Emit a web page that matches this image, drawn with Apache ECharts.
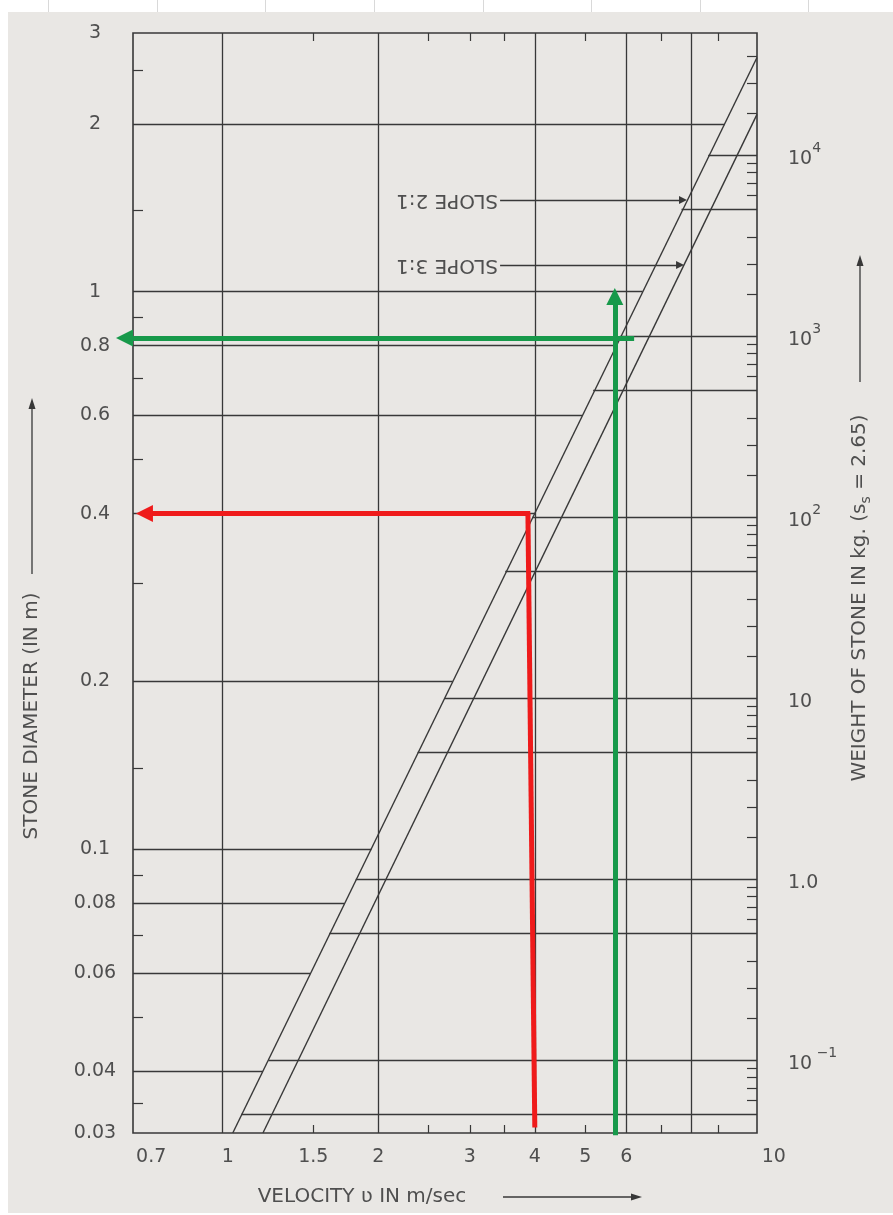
<!DOCTYPE html>
<html>
<head>
<meta charset="utf-8">
<script src="https://cdn.jsdelivr.net/npm/echarts@6/dist/echarts.min.js"></script>
<style>
  html, body { margin: 0; padding: 0; background: #ffffff; }
  .rule { position: absolute; top: 0; width: 1px; height: 12px; background: #d9d9d9; }
  #sheet { position: absolute; left: 8px; top: 12px; width: 885px; height: 1201px; background: #e9e7e4; }
  #chart { position: absolute; left: 0; top: 0; width: 893px; height: 1215px; }
</style>
</head>
<body>
<div class="rule" style="left:48px"></div>
<div class="rule" style="left:157px"></div>
<div class="rule" style="left:265px"></div>
<div class="rule" style="left:374px"></div>
<div class="rule" style="left:483px"></div>
<div class="rule" style="left:591px"></div>
<div class="rule" style="left:700px"></div>
<div class="rule" style="left:808px"></div>
<div id="sheet"></div>
<div id="chart"></div>
<script>
// ---- scale extents (all three scales are logarithmic) ----
const V_MIN = 0.675, V_MAX = 10.7;     // flow velocity, m/s
const D_MIN = 0.031, D_MAX = 2.91;     // stone diameter, m
const W_MIN = 0.0395, W_MAX = 47200;   // stone weight, kg

// ---- velocity axis ----
const velocityLabels = [0.7, 1, 1.5, 2, 3, 4, 5, 6, 10];
const velocityMinorTicks = [1.5, 2.5, 3, 3.5, 5, 7, 9];
const velocityGrid = [1, 2, 4, 6, 8];

// ---- diameter axis ----
const diameterLabels = [0.03, 0.04, 0.06, 0.08, 0.1, 0.2, 0.4, 0.6, 0.8, 1, 2, 3];
const diameterMinorTicks = [2.5, 1.4, 0.9, 0.7, 0.5, 0.3, 0.14, 0.09, 0.07, 0.05, 0.035];
const diameterGrid    = [2, 1, 0.8, 0.6, 0.4, 0.2, 0.1, 0.08, 0.06, 0.04];
// velocity at which each diameter line meets the 2:1 curve
const diameterGridEnd = [9.27, 6.45, 5.74, 4.94, 4.0, 2.78, 1.94, 1.72, 1.48, 1.20];

// ---- weight axis ----
const weightLabels = [0.1, 1, 10, 100, 1000, 10000];
const weightGrid      = [10000, 5000, 1000, 500, 100, 50, 10, 5, 1, 0.5, 0.1, 0.05];
// velocity at which each weight line leaves the 2:1 curve
const weightGridStart = [8.62, 7.66, 5.83, 5.18, 3.96, 3.51, 2.68, 2.38, 1.81, 1.61, 1.23, 1.09];
const weightMinorTicks = [
  0.09, 0.08, 0.07, 0.06,
  0.9, 0.8, 0.7, 0.6, 0.35, 0.25, 0.17,
  9, 8, 7, 6, 3.5, 2.5, 1.7,
  90, 80, 70, 60, 35, 25, 17,
  900, 800, 700, 600, 350, 250, 170,
  9000, 8000, 7000, 6000, 3500, 2500, 1700,
  35000, 25000, 17000
];

// ---- design curves: [velocity, diameter] ----
const slope21 = [[1.05, 0.031], [10.7, 2.63]];
const slope31 = [[1.2, 0.031], [10.7, 2.08]];
const pointer21 = [[3.43, 1.46], [7.71, 1.46]];
const pointer31 = [[3.43, 1.117], [7.61, 1.117]];

// ---- worked examples: [velocity, diameter] ----
const redUp     = [[4.0, 0.0317], [3.88, 0.4]];
const redAcross = [[3.92, 0.4], [0.71, 0.4]];
const greenUp     = [[5.7, 0.0307], [5.7, 0.98]];
const greenAcross = [[6.21, 0.826], [0.65, 0.826]];

const INK = '#383838';
const TEXT = '#4f4f4f';
const FONT = 'DejaVu Sans';
const RED = '#ef1b1b';
const GREEN = '#17994a';

const near = (a, b) => Math.abs(Math.log10(a) - Math.log10(b)) < 1e-4;
const inside = (v, lo, hi) => Math.min(Math.max(v, lo * 1.00001), hi * 0.99999);

const dLabelPos = diameterLabels.map(v => inside(v, D_MIN, D_MAX));
const vShift = { 0.7: 20, 1: 12, 10: 64 };  // left padding for labels set off their tick

const weightText = {
  0.1: '{b|10}{s| −1}', 1: '{b|1.0}', 10: '{b|10}',
  100: '{b|10}{s|2}', 1000: '{b|10}{s|3}', 10000: '{b|10}{s|4}'
};

const chart = echarts.init(document.getElementById('chart'), null, { renderer: 'canvas' });

const segStyle = { color: INK, width: 1.3, opacity: 1 };

function seg(a, b) { return { coords: [a, b] }; }

const LBL = { fontSize: 19, fontFamily: FONT, color: TEXT };

const option = {
  animation: false,
  backgroundColor: 'transparent',
  grid: { left: 133, right: 136, top: 33, bottom: 82, show: true, borderColor: INK, borderWidth: 1.6, backgroundColor: 'transparent' },
  xAxis: [
    {
      type: 'log', logBase: 10, min: V_MIN, max: V_MAX, position: 'bottom',
      axisLine: { show: false },
      splitLine: { show: false },
      axisTick: { show: true, inside: true, length: 8, customValues: velocityMinorTicks, lineStyle: { color: INK, width: 1.2 } },
      axisLabel: {
        customValues: velocityLabels, margin: 15,
        formatter: v => {
          const key = velocityLabels.find(x => near(x, v));
          return vShift[key] ? '{p' + vShift[key] + '|' + key + '}' : '{n|' + key + '}';
        },
        rich: {
          n: Object.assign({}, LBL),
          p12: Object.assign({ padding: [0, 0, 0, 12] }, LBL),
          p20: Object.assign({ padding: [0, 0, 0, 20] }, LBL),
          p64: Object.assign({ padding: [0, 0, 0, 64] }, LBL)
        }
      }
    },
    {
      type: 'log', logBase: 10, min: V_MIN, max: V_MAX, position: 'top',
      axisLine: { show: false },
      splitLine: { show: false },
      axisTick: { show: true, inside: true, length: 8, customValues: velocityMinorTicks, lineStyle: { color: INK, width: 1.2 } },
      axisLabel: { show: false }
    }
  ],
  yAxis: [
    {
      type: 'log', logBase: 10, min: D_MIN, max: D_MAX, position: 'left',
      axisLine: { show: false },
      splitLine: { show: false },
      axisTick: { show: true, inside: true, length: 10, customValues: diameterMinorTicks, lineStyle: { color: INK, width: 1.2 } },
      axisLabel: Object.assign({
        customValues: dLabelPos, margin: 38, align: 'center',
        formatter: v => {
          const i = dLabelPos.findIndex(x => near(x, v));
          return i >= 0 ? String(diameterLabels[i]) : '';
        }
      }, LBL)
    },
    {
      type: 'log', logBase: 10, min: W_MIN, max: W_MAX, position: 'right',
      axisLine: { show: false },
      splitLine: { show: false },
      axisTick: { show: true, inside: true, length: 10, customValues: weightMinorTicks, lineStyle: { color: INK, width: 1.2 } },
      axisLabel: {
        customValues: weightLabels, margin: 31, align: 'left',
        formatter: v => {
          const key = weightLabels.find(x => near(x, v));
          return weightText[key] || '';
        },
        rich: {
          b: { fontSize: 19, fontFamily: FONT, color: TEXT, lineHeight: 28, verticalAlign: 'bottom' },
          s: { fontSize: 14, fontFamily: FONT, color: TEXT, lineHeight: 28, verticalAlign: 'top' }
        }
      }
    }
  ],
  series: [
    { // vertical velocity grid lines
      type: 'lines', coordinateSystem: 'cartesian2d', xAxisIndex: 0, yAxisIndex: 0, silent: true,
      lineStyle: segStyle,
      data: velocityGrid.map(v => seg([v, D_MIN], [v, D_MAX]))
    },
    { // diameter lines, from the left frame to the 2:1 curve
      type: 'lines', coordinateSystem: 'cartesian2d', xAxisIndex: 0, yAxisIndex: 0, silent: true,
      lineStyle: segStyle,
      data: diameterGrid.map((d, i) => seg([V_MIN, d], [diameterGridEnd[i], d]))
    },
    { // weight lines, from the 2:1 curve to the right frame
      type: 'lines', coordinateSystem: 'cartesian2d', xAxisIndex: 0, yAxisIndex: 1, silent: true,
      lineStyle: segStyle,
      data: weightGrid.map((w, i) => seg([weightGridStart[i], w], [V_MAX, w]))
    },
    { // design curves
      type: 'lines', coordinateSystem: 'cartesian2d', xAxisIndex: 0, yAxisIndex: 0, silent: true,
      lineStyle: { color: INK, width: 1.4, opacity: 1 },
      data: [seg(slope21[0], slope21[1]), seg(slope31[0], slope31[1])]
    },
    { // slope pointers
      type: 'lines', coordinateSystem: 'cartesian2d', xAxisIndex: 0, yAxisIndex: 0, silent: true,
      lineStyle: { color: INK, width: 1.3, opacity: 1 },
      itemStyle: { color: INK, opacity: 1 },
      symbol: ['none', 'triangle'], symbolSize: [0, 8],
      data: [seg(pointer21[0], pointer21[1]), seg(pointer31[0], pointer31[1])]
    },
    { // example: v = 4 m/s
      type: 'lines', coordinateSystem: 'cartesian2d', xAxisIndex: 0, yAxisIndex: 0, silent: true, clip: false,
      lineStyle: { color: RED, width: 5, opacity: 1 },
      symbol: ['none', 'triangle'], symbolSize: [0, 17],
      data: [
        { coords: redUp, symbol: ['none', 'none'] },
        seg(redAcross[0], redAcross[1])
      ]
    },
    { // example: v = 5.7 m/s
      type: 'lines', coordinateSystem: 'cartesian2d', xAxisIndex: 0, yAxisIndex: 0, silent: true, clip: false,
      lineStyle: { color: GREEN, width: 5, opacity: 1 },
      symbol: ['none', 'triangle'], symbolSize: [0, 17],
      data: [seg(greenUp[0], greenUp[1]), seg(greenAcross[0], greenAcross[1])]
    }
  ]
};

chart.setOption(option);

// axis titles and curve labels
const p21 = chart.convertToPixel({ xAxisIndex: 0, yAxisIndex: 0 }, pointer21[0]);
const p31 = chart.convertToPixel({ xAxisIndex: 0, yAxisIndex: 0 }, pointer31[0]);

const TITLE_SIZE = 20;
const titleStyle = { fontSize: TITLE_SIZE, fontFamily: FONT, fill: TEXT, align: 'center', verticalAlign: 'middle' };

function arrow(x1, y1, x2, y2) {
  const ang = Math.atan2(y2 - y1, x2 - x1);
  const L = 11, H = 3.5;
  const bx = x2 - L * Math.cos(ang), by = y2 - L * Math.sin(ang);
  const nx = -Math.sin(ang) * H, ny = Math.cos(ang) * H;
  return [
    { type: 'line', silent: true, shape: { x1, y1, x2: bx, y2: by }, style: { stroke: INK, lineWidth: 1.3 } },
    { type: 'polygon', silent: true, shape: { points: [[x2, y2], [bx + nx, by + ny], [bx - nx, by - ny]] }, style: { fill: INK } }
  ];
}

chart.setOption({
  graphic: [
    { type: 'text', silent: true, x: 32, y: 716, rotation: Math.PI / 2,
      style: Object.assign({ text: 'STONE DIAMETER (IN m)' }, titleStyle) },
    ...arrow(32, 574, 32, 398),
    { type: 'text', silent: true, x: 362, y: 1197,
      style: Object.assign({ text: 'VELOCITY ʋ IN m/sec' }, titleStyle) },
    ...arrow(503, 1197, 642, 1197),
    { type: 'text', silent: true, x: 860, y: 598, rotation: Math.PI / 2,
      style: Object.assign({
        text: 'WEIGHT OF STONE IN kg. (s{sub|s} = 2.65)',
        rich: { sub: { fontSize: 14, fontFamily: FONT, fill: TEXT, padding: [12, 0, 0, 0] } }
      }, titleStyle) },
    ...arrow(860, 382, 860, 255),
    { type: 'text', silent: true, x: p21[0] - 2, y: p21[1], rotation: Math.PI,
      style: { text: 'SLOPE 2:1', fontSize: TITLE_SIZE, fontFamily: FONT, fill: TEXT, align: 'left', verticalAlign: 'middle' } },
    { type: 'text', silent: true, x: p31[0] - 2, y: p31[1], rotation: Math.PI,
      style: { text: 'SLOPE 3:1', fontSize: TITLE_SIZE, fontFamily: FONT, fill: TEXT, align: 'left', verticalAlign: 'middle' } }
  ]
});
</script>
</body>
</html>
